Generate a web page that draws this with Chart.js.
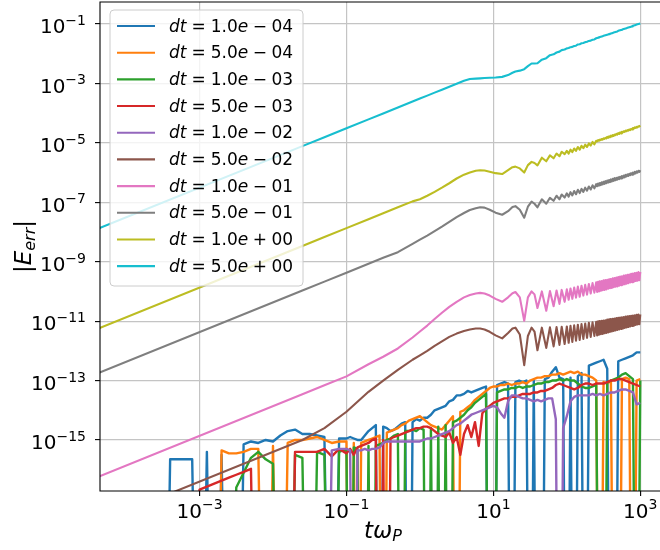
<!DOCTYPE html>
<html lang="en">
<head>
  <meta charset="UTF-8">
  <script src="https://cdn.jsdelivr.net/npm/chart.js"></script>
  <style>
    html, body { margin: 0; padding: 0; background: #fff; overflow: hidden; }
    .chart-box { width: 666px; height: 550px; } /* right spine sits just past the window edge */
  </style>
</head>
<body>
  <div class="chart-box"><canvas id="errChart"></canvas></div>

  <script>
    // all values are log10; Z marks an exact zero error (drops off the log axis)
    const Z = -30;

    const dtLabels = ['1.0e-04', '5.0e-04', '1.0e-03', '5.0e-03', '1.0e-02',
                      '5.0e-02', '1.0e-01', '5.0e-01', '1.0e+00', '5.0e+00'];
    const colors = ['#1f77b4', '#ff7f0e', '#2ca02c', '#d62728', '#9467bd',
                    '#8c564b', '#e377c2', '#7f7f7f', '#bcbd22', '#17becf'];

    const xTickExps = [-3, -1, 1, 3];
    const yTickExps = [-15, -13, -11, -9, -7, -5, -3, -1];

    // small dt runs: round-off noise
    const logTNoise = [-3.5, -3.4, -3.3, -3.2, -3.1, -3.0, -2.9, -2.8, -2.7, -2.6, -2.5, -2.4, -2.3, -2.2, -2.1,
      -2.0, -1.9, -1.8, -1.7, -1.6, -1.5, -1.4, -1.3, -1.2, -1.1,
      -1.0, -0.95, -0.9, -0.85, -0.8, -0.75, -0.7, -0.65, -0.6, -0.55, -0.5, -0.45, -0.4, -0.35, -0.3, -0.25, -0.2, -0.15, -0.1, -0.05,
      0.0, 0.05, 0.1, 0.15, 0.2, 0.25, 0.3, 0.35, 0.4, 0.45, 0.5, 0.55, 0.6, 0.65, 0.7, 0.75, 0.8, 0.85, 0.9, 0.95,
      1.0, 1.05, 1.1, 1.15, 1.2, 1.25, 1.3, 1.35, 1.4, 1.45, 1.5, 1.55, 1.6, 1.65, 1.7, 1.75, 1.8, 1.85, 1.9, 1.95,
      2.0, 2.05, 2.1, 2.15, 2.2, 2.25, 2.3, 2.35, 2.4, 2.45, 2.5, 2.55, 2.6, 2.65, 2.7, 2.75, 2.8, 2.85, 2.9, 2.95, 3.0];

    const errBlue = [Z, -15.65, -15.65, -15.65, -15.65, Z, -15.4, Z, -15.5, Z, Z, -15.15, -15.05, -15.1, -15.0,
      -15.05, -14.85, -14.7, -14.65, -14.8, -14.8, -14.85, -14.9, Z, -14.95,
      -14.95, -14.9, -14.95, -15.0, -15.0, -14.85, -14.7, -14.6, -14.5, Z,
      -14.55, -14.6, -14.7, -14.65, -14.55, -14.45, -14.4, Z, -14.4, -14.3,
      -14.35, -14.25, -14.25, -14.15, -14.0, -13.95, -13.9, -13.85, -13.7, -13.65,
      -13.5, -13.5, -13.45, -13.35, -13.4, -13.35, -13.3, -13.25, -13.2, Z,
      Z, -13.15, -13.1, -13.05, -13.1, Z, -13.05, -13.0, -13.05, -13.0,
      Z, -13.0, Z, Z, -12.95, -12.9, -12.7, -12.55, -12.9, -12.95,
      Z, -12.9, Z, -12.85, -12.75, Z, -12.5, -12.45, -12.4, -12.35,
      -12.3, -12.6, Z, Z, -12.35, -12.3, -12.25, -12.2, -12.15, -12.05, -12.05];
    const errOrange = [Z, Z, Z, Z, Z, Z, Z, Z, -15.35, -15.45, -15.45, -15.4, -15.3, -15.3, Z,
      -15.2, Z, -15.1, -15.0, -15.0, -14.95, -14.9, -15.0, -15.1, -15.05,
      -15.05, Z, -15.1, Z, -15.1, -15.05, -15.0, -14.95, -14.9, -14.85,
      Z, -14.75, -14.7, -14.65, -14.6, -14.5, -14.45, -14.35, -14.3, -14.25,
      -14.2, -14.3, -14.4, -14.5, -14.55, -14.6, -14.65, -14.5, -14.35, -14.2,
      Z, -14.05, -14.0, -13.9, -13.8, -13.65, -13.55, -13.45, -13.35, -13.25,
      -13.2, -13.2, -13.15, -13.15, -13.1, -13.15, -13.1, -13.1, -13.05, -13.1,
      -13.0, -12.95, -12.9, -12.9, -12.85, -12.85, -12.8, -12.8, -12.75, -12.8,
      -12.75, -12.7, -12.75, -12.7, -12.8, -12.8, -12.85, -12.9, -13.0, Z,
      -13.05, -13.1, -13.0, Z, Z, -12.95, -12.9, -12.95, Z, -13.0, -12.95];
    const errGreen = [Z, Z, Z, Z, Z, Z, Z, Z, Z, Z, -16.6, -16.1, -15.6, -15.4, -15.65,
      -15.8, Z, Z, -15.5, -15.6, Z, -15.4, -15.5, Z, -15.4,
      -15.3, Z, -15.25, -15.3, Z, Z, -15.2, Z, -15.2, -15.15,
      -15.1, -15.0, -14.95, -14.85, -14.8, Z, -14.7, -14.7, -14.65, -14.7,
      -14.6, -14.65, Z, -14.6, Z, -14.55, Z, -14.5, Z, -14.4,
      -14.35, -14.25, -14.15, -14.0, -13.9, -13.75, -13.65, -13.55, -13.45, Z,
      Z, -13.4, -13.35, -13.3, -13.3, -13.25, -13.25, -13.2, -13.25, -13.2,
      -13.2, -13.15, -13.1, -13.1, -13.05, -13.05, -13.0, -13.0, -12.95, -13.0,
      -12.95, -13.0, -13.0, -13.1, -13.2, -13.25, -13.25, -13.2, -13.15, Z,
      Z, -13.05, -13.0, -12.95, -12.9, -12.8, -12.75, -12.85, -12.95, Z, -13.0];
    const errRed = [Z, Z, Z, Z, Z, -16.67, -16.57, -16.47, -16.37, -16.27, -16.17, -16.07, -15.97, Z, Z,
      Z, Z, Z, -15.4, -15.4, -15.4, -15.4, -15.3, -15.55, -15.3,
      -15.45, -15.3, -15.5, -15.25, -15.2, -15.15, -15.1, -15.0, -14.95, Z,
      -15.0, Z, -14.95, -14.9, -14.85, -14.8, -14.75, -14.7, -14.65, -14.6,
      -14.6, -14.55, -14.55, -14.6, -14.7, -14.8, -14.85, -14.9, -14.75, -15.1,
      -14.9, -15.5, -14.8, -14.5, -14.9, -14.4, -15.2, -14.1, -13.95, -13.85,
      -13.75, -13.7, -13.65, -13.6, -13.6, -13.55, -13.55, -13.5, -13.45, -13.45,
      -13.45, -13.4, -13.4, -13.35, -13.35, -13.3, -13.25, -13.15, -13.1, -13.15,
      -13.2, -13.25, -13.3, -13.25, -13.15, -13.1, -13.1, -13.15, -13.1, -13.1,
      -13.1, -13.05, -13.0, -13.0, -12.95, -12.95, -13.0, -13.05, -13.1, -13.15, -13.2];
    const errPurple = [Z, Z, Z, Z, Z, Z, Z, Z, Z, Z, Z, Z, Z, Z, Z,
      Z, Z, Z, Z, Z, Z, Z, Z, -15.35, -15.3,
      -15.3, -15.35, Z, -15.35, -15.35, -15.3, -15.35, -15.3, -15.3, -15.25,
      -15.1, -15.05, -15.05, -15.05, -15.05, -15.05, -15.05, -15.05, -15.05, -15.05,
      -15.05, -15.0, -14.95, -14.95, -14.9, -14.85, -14.8, -14.75, -14.7, -14.6,
      -14.5, -14.45, -14.35, -14.25, -14.15, -14.1, -14.05, -14.0, -13.95, -13.9,
      -13.85, -13.9, -14.1, -14.25, -13.7, -13.5, -13.5, -13.55, -13.6, -13.6,
      -13.65, -13.7, -13.65, -13.7, -13.65, -13.6, -13.6, -14.3, Z, -14.6,
      -14.2, -13.7, -13.55, -13.5, -13.5, -13.5, -13.5, -13.45, -13.5, -13.45,
      -13.5, -13.45, -13.4, -13.4, -13.35, -13.3, -13.3, -13.35, -13.4, -13.8, -13.75];

    // large dt runs: truncation error, oscillating after t*wP ~ 7 (peak / dip pairs)
    const logTSmooth = [-4.4, -1.6, -1.3, -1.0, -0.7, -0.5, -0.3, -0.1, 0.0, 0.1, 0.2, 0.3, 0.4, 0.5, 0.6,
      0.68, 0.76, 0.82, 0.88, 0.95, 1.03, 1.12, 1.2, 1.26, 1.3, 1.36, 1.42, 1.47, 1.52, 1.56,
      1.6, 1.66, 1.72, 1.77, 1.82, 1.86, 1.9, 1.93, 1.97,
      2.0, 2.025, 2.05, 2.075, 2.1, 2.125, 2.15, 2.175, 2.2, 2.225, 2.25, 2.275, 2.3, 2.325, 2.35, 2.375, 2.4,
      2.4125, 2.425, 2.4375, 2.45, 2.4625, 2.475, 2.4875, 2.5,
      2.5125, 2.525, 2.5375, 2.55, 2.5625, 2.575, 2.5875, 2.6,
      2.6125, 2.625, 2.6375, 2.65, 2.6625, 2.675, 2.6875, 2.7,
      2.7125, 2.725, 2.7375, 2.75, 2.7625, 2.775, 2.7875, 2.8,
      2.8125, 2.825, 2.8375, 2.85, 2.8625, 2.875, 2.8875, 2.9,
      2.9125, 2.925, 2.9375, 2.95, 2.9625, 2.975, 2.9875, 3.0];

    const errBrown = [-17.8, -15.0, -14.6, -14.05, -13.38, -13.0, -12.64, -12.3, -12.15, -12.0, -11.83, -11.68, -11.53, -11.42, -11.33,
      -11.28, -11.25, -11.25, -11.28, -11.36, -11.48, -11.58, -11.4, -11.25, -11.22, -11.45, -12.48, -11.5, -11.22, -11.35,
      -11.98, -11.22, -11.9, -11.21, -11.85, -11.2, -11.8, -11.19, -11.77,
      -11.18, -11.73, -11.16, -11.7, -11.14, -11.66, -11.12, -11.63, -11.1, -11.6, -11.08, -11.56, -11.06, -11.53, -11.04, -11.5, -11.02,
      -11.48, -11.01, -11.46, -11.0, -11.44, -10.99, -11.43, -10.98,
      -11.41, -10.97, -11.4, -10.95, -11.38, -10.94, -11.36, -10.93,
      -11.35, -10.92, -11.33, -10.91, -11.31, -10.9, -11.3, -10.89,
      -11.28, -10.88, -11.26, -10.87, -11.25, -10.86, -11.23, -10.85,
      -11.21, -10.84, -11.2, -10.83, -11.18, -10.82, -11.16, -10.81,
      -11.15, -10.8, -11.13, -10.79, -11.11, -10.78, -11.1, -10.77];
    const errPink = [-16.26, -13.46, -13.16, -12.86, -12.45, -12.2, -11.92, -11.55, -11.35, -11.15, -10.93, -10.72, -10.52, -10.35, -10.2,
      -10.12, -10.07, -10.05, -10.07, -10.14, -10.25, -10.35, -10.2, -10.06, -10.02, -10.2, -10.99, -10.2, -10.0, -10.1,
      -10.56, -10.0, -10.65, -9.99, -10.5, -9.97, -10.42, -9.95, -10.35,
      -9.93, -10.28, -9.9, -10.25, -9.87, -10.21, -9.84, -10.18, -9.81, -10.14, -9.78, -10.11, -9.75, -10.07, -9.72, -10.04, -9.69,
      -10.02, -9.68, -10.0, -9.66, -9.98, -9.65, -9.96, -9.63,
      -9.95, -9.62, -9.93, -9.61, -9.91, -9.59, -9.89, -9.58,
      -9.88, -9.56, -9.86, -9.55, -9.84, -9.53, -9.83, -9.52,
      -9.81, -9.5, -9.79, -9.49, -9.77, -9.47, -9.76, -9.46,
      -9.74, -9.44, -9.72, -9.43, -9.7, -9.41, -9.69, -9.4,
      -9.67, -9.38, -9.65, -9.37, -9.64, -9.35, -9.62, -9.34];
    const errGray = [-12.77, -9.97, -9.67, -9.37, -9.07, -8.87, -8.68, -8.4, -8.26, -8.12, -7.97, -7.82, -7.66, -7.5, -7.36,
      -7.26, -7.2, -7.17, -7.18, -7.25, -7.35, -7.42, -7.3, -7.16, -7.13, -7.25, -7.52, -7.15, -6.98, -7.05,
      -7.17, -6.9, -7.05, -6.85, -6.95, -6.78, -6.9, -6.74, -6.84,
      -6.7, -6.81, -6.66, -6.77, -6.62, -6.73, -6.58, -6.69, -6.55, -6.65, -6.51, -6.61, -6.47, -6.57, -6.43, -6.53, -6.39,
      -6.46, -6.37, -6.44, -6.35, -6.42, -6.33, -6.4, -6.31,
      -6.38, -6.29, -6.36, -6.27, -6.34, -6.25, -6.32, -6.23,
      -6.3, -6.21, -6.28, -6.19, -6.26, -6.18, -6.24, -6.16,
      -6.22, -6.14, -6.2, -6.12, -6.18, -6.1, -6.16, -6.08,
      -6.13, -6.06, -6.11, -6.04, -6.09, -6.02, -6.07, -6.0,
      -6.05, -5.98, -6.03, -5.96, -6.0, -5.94, -5.98, -5.92];
    const errOlive = [-11.27, -8.47, -8.17, -7.87, -7.57, -7.37, -7.17, -6.97, -6.9, -6.78, -6.65, -6.51, -6.36, -6.2, -6.07,
      -6.0, -5.94, -5.92, -5.93, -5.97, -6.02, -6.05, -5.92, -5.82, -5.8, -5.86, -6.0, -5.75, -5.64, -5.68,
      -5.76, -5.5, -5.62, -5.42, -5.52, -5.36, -5.45, -5.3, -5.38,
      -5.27, -5.36, -5.23, -5.31, -5.19, -5.27, -5.14, -5.23, -5.1, -5.18, -5.06, -5.14, -5.02, -5.09, -4.97, -5.05, -4.93,
      -4.95, -4.91, -4.93, -4.89, -4.91, -4.87, -4.89, -4.85,
      -4.87, -4.83, -4.85, -4.8, -4.83, -4.78, -4.81, -4.76,
      -4.79, -4.74, -4.77, -4.72, -4.74, -4.7, -4.72, -4.67,
      -4.7, -4.65, -4.68, -4.63, -4.65, -4.61, -4.63, -4.59,
      -4.61, -4.57, -4.59, -4.55, -4.57, -4.53, -4.55, -4.5,
      -4.52, -4.48, -4.5, -4.46, -4.48, -4.44, -4.45, -4.42];
    const errCyan = [-7.91, -5.11, -4.81, -4.51, -4.21, -4.01, -3.81, -3.61, -3.51, -3.41, -3.31, -3.21, -3.11, -3.01, -2.91,
      -2.85, -2.84, -2.83, -2.82, -2.81, -2.8, -2.78, -2.72, -2.64, -2.6, -2.57, -2.52, -2.42, -2.33, -2.33,
      -2.32, -2.2, -2.15, -2.05, -2.02, -1.96, -1.93, -1.88, -1.86,
      -1.82, -1.81, -1.78, -1.77, -1.74, -1.73, -1.69, -1.68, -1.65, -1.64, -1.61, -1.6, -1.57, -1.56, -1.53, -1.52, -1.48,
      -1.47, -1.46, -1.45, -1.44, -1.43, -1.42, -1.41, -1.4,
      -1.39, -1.38, -1.37, -1.36, -1.35, -1.34, -1.33, -1.32,
      -1.31, -1.3, -1.29, -1.28, -1.27, -1.26, -1.25, -1.23,
      -1.22, -1.21, -1.2, -1.19, -1.18, -1.17, -1.16, -1.15,
      -1.14, -1.13, -1.12, -1.11, -1.1, -1.09, -1.08, -1.06,
      -1.05, -1.04, -1.03, -1.02, -1.01, -1.0, -0.99, -0.98];

    const seriesT = [logTNoise, logTNoise, logTNoise, logTNoise, logTNoise,
                     logTSmooth, logTSmooth, logTSmooth, logTSmooth, logTSmooth];
    const seriesE = [errBlue, errOrange, errGreen, errRed, errPurple,
                     errBrown, errPink, errGray, errOlive, errCyan];

    const FONT = '"DejaVu Sans", sans-serif';

    function toPoints(logT, logE) {
      return logT.map((lx, i) => ({ x: Math.pow(10, lx), y: Math.pow(10, logE[i]) }));
    }

    // a run of [text, font, dy, gapBefore] pieces, mathtext style
    function piecesWidth(ctx, pieces) {
      let w = 0;
      pieces.forEach(p => { ctx.font = p[1]; w += (p[3] || 0) + ctx.measureText(p[0]).width; });
      return w;
    }
    function drawPieces(ctx, pieces, x, y) {
      pieces.forEach(p => {
        x += (p[3] || 0);
        ctx.font = p[1];
        ctx.fillText(p[0], x, y + (p[2] || 0));
        x += ctx.measureText(p[0]).width;
      });
    }
    function powerPieces(exp) {
      const s = (exp < 0 ? '\u2212' : '') + Math.abs(exp);
      return [['10', '20px ' + FONT, 0], [s, '14px ' + FONT, -8.3]];
    }

    const mplLook = {
      id: 'mplLook',
      afterDatasetsDraw(chart) {
        // spines go over the lines
        const { ctx, chartArea: a } = chart;
        ctx.save();
        ctx.strokeStyle = '#000';
        ctx.lineWidth = 1.1;
        ctx.beginPath();
        ctx.moveTo(a.right, a.top);
        ctx.lineTo(a.left, a.top);
        ctx.lineTo(a.left, a.bottom);
        ctx.lineTo(a.right, a.bottom);
        ctx.stroke();
        ctx.restore();
      },
      afterDraw(chart) {
        const { ctx, chartArea: a } = chart;
        const xs = chart.scales.x, ys = chart.scales.y;
        ctx.save();
        ctx.fillStyle = '#000';
        ctx.textAlign = 'left';
        ctx.textBaseline = 'alphabetic';

        // tick labels
        yTickExps.forEach(e => {
          const py = ys.getPixelForValue(Math.pow(10, e));
          const pcs = powerPieces(e);
          drawPieces(ctx, pcs, a.left - 14 - piecesWidth(ctx, pcs), py + 9.3);
        });
        xTickExps.forEach(e => {
          const px = xs.getPixelForValue(Math.pow(10, e));
          const pcs = powerPieces(e);
          drawPieces(ctx, pcs, px - piecesWidth(ctx, pcs) / 2, a.bottom + 26.6);
        });

        // axis titles
        const it = 'italic 23px ' + FONT, up = '23px ' + FONT, sub = 'italic 16px ' + FONT;
        const xt = [['t', it], ['\u03c9', it], ['P', sub, 3.5]];
        drawPieces(ctx, xt, 383 - piecesWidth(ctx, xt) / 2, a.bottom + 46.7);

        const yt = [['|', up], ['E', it], ['err', sub, 3.5], ['|', up]];
        ctx.save();
        ctx.translate(31, (a.top + a.bottom) / 2);
        ctx.rotate(-Math.PI / 2);
        drawPieces(ctx, yt, -piecesWidth(ctx, yt) / 2, 0);
        ctx.restore();

        // legend box
        const bx = a.left + 10, by = a.top + 8, bw = 193, bh = 276, r = 4;
        ctx.beginPath();
        ctx.moveTo(bx + r, by);
        ctx.arcTo(bx + bw, by, bx + bw, by + bh, r);
        ctx.arcTo(bx + bw, by + bh, bx, by + bh, r);
        ctx.arcTo(bx, by + bh, bx, by, r);
        ctx.arcTo(bx, by, bx + bw, by, r);
        ctx.closePath();
        ctx.fillStyle = 'rgba(255,255,255,0.8)';
        ctx.fill();
        ctx.strokeStyle = '#cccccc';
        ctx.lineWidth = 1;
        ctx.stroke();

        const lit = 'italic 17px ' + FONT, lup = '17px ' + FONT;
        dtLabels.forEach((lab, i) => {
          const cy = a.top + 24 + i * 26.68;
          ctx.strokeStyle = colors[i];
          ctx.lineWidth = 2.1;
          ctx.beginPath();
          ctx.moveTo(a.left + 17, cy);
          ctx.lineTo(a.left + 55, cy);
          ctx.stroke();

          const mant = lab.slice(0, 3);
          const sign = lab[4] === '-' ? '\u2212' : '+';
          const expo = lab.slice(5);
          ctx.fillStyle = '#000';
          drawPieces(ctx, [['dt', lit], ['=', lup, 0, 5], [mant, lup, 0, 5], ['e', lit],
                           [sign, lup, 0, 4.5], [expo, lup, 0, 4.5]], a.left + 69, cy + 5.7);
        });
        ctx.restore();
      }
    };

    const datasets = seriesE.map((e, i) => ({
      label: 'dt = ' + dtLabels[i],
      data: toPoints(seriesT[i], e),
      borderColor: colors[i],
      backgroundColor: colors[i],
      borderWidth: i < 5 ? 2.4 : 2.1,
      pointRadius: 0,
      tension: 0,
      fill: false,
      clip: 0,
      borderJoinStyle: 'round',
      order: 9 - i   // later series on top, like matplotlib
    }));

    const gridStyle = {
      color: '#c4c4c4',
      lineWidth: 1.2,
      drawTicks: true,
      tickLength: 5,
      tickColor: '#000',
      tickWidth: 1.1
    };

    new Chart(document.getElementById('errChart'), {
      type: 'line',
      data: { datasets },
      options: {
        responsive: true,
        maintainAspectRatio: false,
        animation: false,
        events: [],
        layout: { padding: { top: 2, left: 0, right: 0, bottom: 0 } },
        scales: {
          x: {
            type: 'logarithmic',
            min: Math.pow(10, -4.355),
            max: Math.pow(10, 3.35),
            grid: gridStyle,
            border: { display: false },
            ticks: { display: false },
            afterBuildTicks: s => { s.ticks = xTickExps.map(e => ({ value: Math.pow(10, e) })); },
            afterFit: s => { s.height = 59; }
          },
          y: {
            type: 'logarithmic',
            min: Math.pow(10, -16.717),
            max: Math.pow(10, -0.26),
            grid: gridStyle,
            border: { display: false },
            ticks: { display: false },
            afterBuildTicks: s => { s.ticks = yTickExps.map(e => ({ value: Math.pow(10, e) })); },
            afterFit: s => { s.width = 100; }
          }
        },
        plugins: {
          legend: { display: false },
          tooltip: { enabled: false }
        }
      },
      plugins: [mplLook]
    });
  </script>
</body>
</html>
